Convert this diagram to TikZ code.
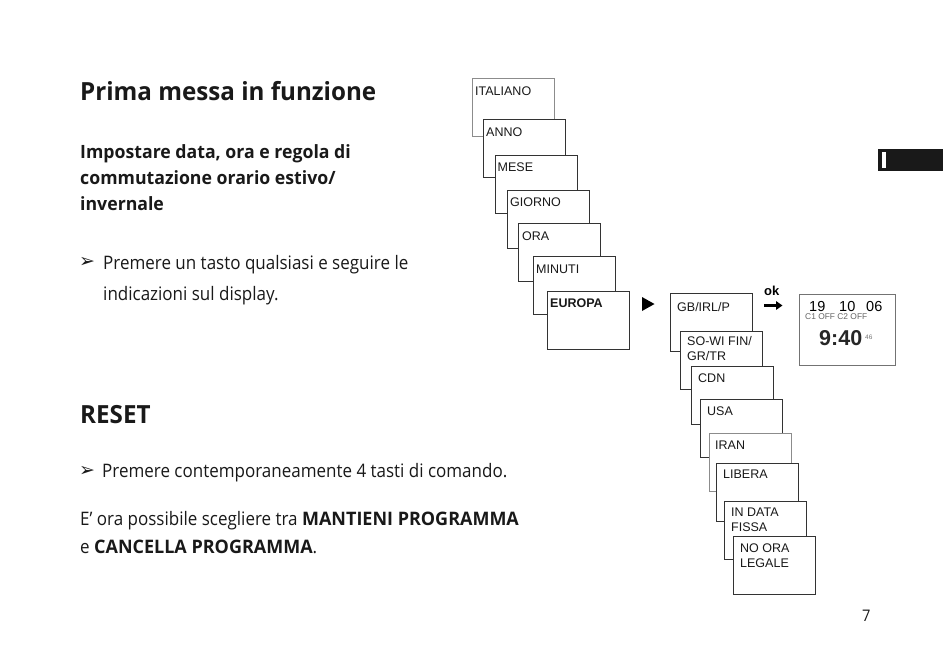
\documentclass[tikz,border=0pt]{standalone}
\usepackage{fontspec}
\setmainfont{Open Sans}[UprightFeatures={FakeStretch=0.914}, BoldFeatures={FakeStretch=0.967}]
\newfontfamily\boxfont{Liberation Sans}
\newfontfamily\symfont{DejaVu Sans}
\usetikzlibrary{arrows.meta}
\begin{document}
\begin{tikzpicture}[x=1pt,y=-1pt,
  panel/.style={draw=black!80, fill=white, line width=0.8pt, minimum width=82pt, minimum height=58pt, anchor=north west, inner sep=0pt},
  lightpanel/.style={panel, draw=black!45},
  boxlbl/.style={font=\boxfont\fontsize{12.5}{14.5}\selectfont, anchor=base west, inner sep=0pt, text=black!90},
  txt/.style={anchor=base west, inner sep=0pt, text=black!90, font=\fontsize{18.6}{31}\selectfont},
  head/.style={anchor=base west, inner sep=0pt, text=black!90, font=\bfseries\fontsize{25}{30}\selectfont},
  sub/.style={anchor=base west, inner sep=0pt, text=black!90, font=\bfseries\fontsize{18.3}{26}\selectfont},
  bul/.style={anchor=west, inner sep=0pt, text=black!90, font=\symfont\fontsize{19}{20}\selectfont},
  disp/.style={anchor=base west, inner sep=0pt, font=\boxfont}
]
\path[use as bounding box] (0,0) rectangle (950,659);

% ---------- left text ----------
\node[head] (title) at (80,100) {Prima messa in funzione};
\node[sub] (subt) at (80,158) {\parbox[t]{340pt}{\raggedright Impostare data, ora e regola di\\commutazione orario estivo/\\invernale}};
\node[bul] (b1) at (79,262.7) {➢};
\node[txt] (t1) at (103,269) {\parbox[t]{360pt}{\raggedright Premere un tasto qualsiasi e seguire le\\indicazioni sul display.}};
\node[head] (reset) at (80,423) {RESET};
\node[bul] (b2) at (79,471) {➢};
\node[txt] (t2) at (102,477.5) {Premere contemporaneamente 4 tasti di comando.};
\node[txt] (t3) at (80,525) {\parbox[t]{520pt}{\raggedright E’ ora possibile scegliere tra \textbf{MANTIENI PROGRAMMA}\\[-3pt]e \textbf{CANCELLA PROGRAMMA}.}};
\node[anchor=base west, inner sep=0pt, font=\fontsize{16}{18}\selectfont, text=black!90] (pg) at (862,621) {7};

% ---------- tab ----------
\fill[black!90] (878,149) rectangle (943,171);
\fill[white] (881.5,152) rectangle (885.5,168);

% ---------- left stack ----------
\node[lightpanel] (it) at (472,78) {};
\node[boxlbl] at ([shift={(3,17.5)}]it.north west) {ITALIANO};
\node[panel] (an) at (483,119) {};
\node[boxlbl] at ([shift={(3,17.5)}]an.north west) {ANNO};
\node[panel] (me) at (495,155) {};
\node[boxlbl] at ([shift={(2.5,16.5)}]me.north west) {MESE};
\node[panel] (gi) at (507,190) {};
\node[boxlbl] at ([shift={(3,16.5)}]gi.north west) {GIORNO};
\node[panel] (or) at (518,223) {};
\node[boxlbl] at ([shift={(4,17.5)}]or.north west) {ORA};
\node[panel] (mi) at (533,256) {};
\node[boxlbl] at ([shift={(3,17.5)}]mi.north west) {MINUTI};
\node[panel] (eu) at (547,291) {};
\node[boxlbl, font=\boxfont\bfseries\fontsize{12.5}{14.5}\selectfont] at ([shift={(3,16.5)}]eu.north west) {EUROPA};

% ---------- arrow triangle ----------
\fill[black] (642,297) -- (654.5,304) -- (642,311) -- cycle;

% ---------- right stack ----------
\node[panel] (gb) at (670,293) {};
\node[boxlbl] at ([shift={(7,18.5)}]gb.north west) {GB/IRL/P};
\node[panel] (so) at (680,331) {};
\node[boxlbl] at ([shift={(7,14.5)}]so.north west) {\parbox[t]{76pt}{SO-WI FIN/\\GR/TR}};
\node[panel] (cd) at (691,366) {};
\node[boxlbl] at ([shift={(7,16.5)}]cd.north west) {CDN};
\node[panel] (us) at (700,399) {};
\node[boxlbl] at ([shift={(7,16.5)}]us.north west) {USA};
\node[lightpanel] (ir) at (709,433) {};
\node[boxlbl] at ([shift={(6,16.5)}]ir.north west) {IRAN};
\node[panel] (li) at (716,463) {};
\node[boxlbl] at ([shift={(7,15.5)}]li.north west) {LIBERA};
\node[panel] (id) at (724,501) {};
\node[boxlbl] at ([shift={(7,15.5)}]id.north west) {\parbox[t]{76pt}{IN DATA\\FISSA}};
\node[panel] (no) at (733,536) {};
\node[boxlbl] at ([shift={(7,16.5)}]no.north west) {\parbox[t]{76pt}{NO ORA\\LEGALE}};

% ---------- ok arrow ----------
\node[anchor=base west, inner sep=0pt, font=\boxfont\bfseries\fontsize{13}{15}\selectfont] (ok) at (764,295) {ok};
\coordinate (okA) at (764,305.5);
\coordinate (okB) at (782.5,305.5);
\draw[line width=3.4pt, -{Triangle[length=6.5pt,width=8.5pt]}] (okA) -- (okB);

% ---------- display ----------
\node[panel, draw=black!55, minimum width=96pt, minimum height=71pt] (dsp) at (799,294) {};
\node[disp, font=\boxfont\fontsize{14.5}{16}\selectfont] at ([shift={(10,17)}]dsp.north west) {19};
\node[disp, font=\boxfont\fontsize{14.5}{16}\selectfont] at ([shift={(40,17)}]dsp.north west) {10};
\node[disp, font=\boxfont\fontsize{14.5}{16}\selectfont] at ([shift={(67,17)}]dsp.north west) {06};
\node[disp, font=\boxfont\fontsize{8.4}{10}\selectfont, text=black!60] at ([shift={(6,25.5)}]dsp.north west) {C1 OFF C2 OFF};
\node[disp, font=\boxfont\bfseries\fontsize{21.5}{24}\selectfont, text=black!85] at ([shift={(20,51)}]dsp.north west) {9:40};
\node[disp, font=\boxfont\fontsize{6.5}{8}\selectfont, text=black!55] at ([shift={(66,45)}]dsp.north west) {46};
\end{tikzpicture}
\end{document}
